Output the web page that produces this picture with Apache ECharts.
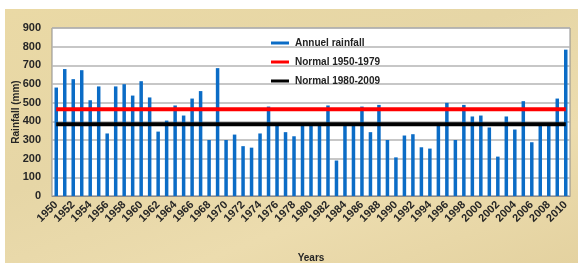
<!DOCTYPE html>
<html lang="en">
  <head>
    <meta charset="UTF-8" />
    <title>Annual rainfall</title>
    <style>
      * {
        padding: 0;
        margin: 0;
      }
      body {
        width: 578px;
        height: 265px;
        background: #ffffff;
        overflow: hidden;
      }
      .container {
        position: absolute;
        left: 5px;
        top: 9px;
        width: 573px;
        height: 254px;
        background: linear-gradient(160deg, #ead9a5, #e6d6a6 40%, #ecdcae 70%, #e4d2a0);
      }
      #chart {
        position: absolute;
        left: -5px;
        top: -9px;
        width: 578px;
        height: 265px;
      }
    </style>
    <script src="https://cdn.jsdelivr.net/npm/echarts@6/dist/echarts.min.js"></script>
  </head>
  <body>
    <div class="container">
      <div id="chart"></div>
    </div>
    <script>
      // years 1950 - 2010
      const years = [];
      for (let y = 1950; y <= 2010; y++) years.push(String(y));

      // annual rainfall (mm)
      const rainfall = [
        581, 680, 626, 674, 513, 587, 335, 587, 599, 538,
        615, 528, 345, 404, 485, 431, 522, 562, 300, 685,
        300, 329, 267, 259, 335, 479, 388, 342, 320, 388,
        388, 388, 485, 190, 388, 388, 479, 342, 488, 300,
        207, 324, 331, 261, 254, 388, 499, 300, 488, 426,
        431, 367, 211, 426, 356, 508, 288, 388, 388, 522,
        784
      ];

      const normal1950 = 465;
      const normal1980 = 385;

      const yTicks = [0, 900, 100];

      const dom = document.getElementById("chart");
      const myChart = echarts.init(dom);

      const labelStyle = {
        color: "#262626",
        fontSize: 11,
        fontWeight: "bold",
        fontFamily: "Liberation Sans",
      };

      const option = {
        animation: false,
        backgroundColor: "transparent",
        grid: {
          left: 52,
          right: 8,
          top: 28,
          bottom: 69,
          outerBoundsMode: "none",
          containLabel: false,
          show: true,
          backgroundColor: "#ffffff",
          borderColor: "#8c8c8c",
          borderWidth: 1,
        },
        legend: {
          orient: "vertical",
          left: 266,
          top: 33,
          itemGap: 9,
          itemWidth: 18,
          itemHeight: 3,
          icon: "rect",
          data: ["Annuel rainfall", "Normal 1950-1979", "Normal 1980-2009"],
          textStyle: {
            color: "#222",
            fontSize: 10,
            fontWeight: "bold",
            fontFamily: "Liberation Sans",
            padding: [-8, 0, 0, 1],
          },
        },
        xAxis: {
          type: "category",
          data: years,
          name: "Years",
          nameLocation: "middle",
          nameGap: 57,
          nameMoveOverlap: false,
          nameTextStyle: Object.assign({}, labelStyle, { fontSize: 10 }),
          axisLine: { lineStyle: { color: "#8c8c8c" } },
          axisTick: { show: false },
          axisLabel: Object.assign({}, labelStyle, {
            interval: 1,
            rotate: 45,
            margin: 7,
          }),
        },
        yAxis: {
          type: "value",
          min: yTicks[0],
          max: yTicks[1],
          interval: yTicks[2],
          name: "Rainfall (mm)",
          nameLocation: "middle",
          nameGap: 31,
          nameMoveOverlap: false,
          nameTextStyle: Object.assign({}, labelStyle, { fontSize: 10 }),
          axisLine: { show: false },
          axisTick: { show: false },
          axisLabel: Object.assign({}, labelStyle, { margin: 11 }),
          splitLine: { lineStyle: { color: "#b4b4b4", width: 1.5 } },
        },
        series: [
          {
            name: "Annuel rainfall",
            type: "bar",
            data: rainfall,
            barWidth: 3.5,
            itemStyle: { color: "#0b6cc6" },
          },
          {
            name: "Normal 1950-1979",
            type: "line",
            data: years.map(() => normal1950),
            symbol: "none",
            lineStyle: { color: "#ff0000", width: 4 },
            itemStyle: { color: "#ff0000" },
            z: 3,
          },
          {
            name: "Normal 1980-2009",
            type: "line",
            data: years.map(() => normal1980),
            symbol: "none",
            lineStyle: { color: "#000000", width: 4 },
            itemStyle: { color: "#000000" },
            z: 3,
          },
        ],
      };

      myChart.setOption(option);
    </script>
  </body>
</html>
